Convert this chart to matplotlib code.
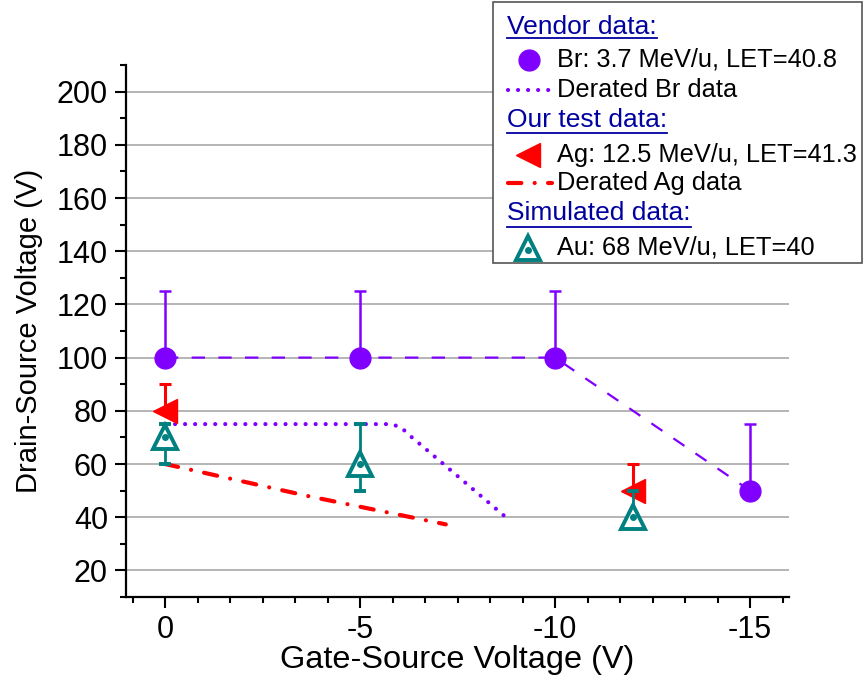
import matplotlib
matplotlib.use("Agg")
import matplotlib.pyplot as plt
from matplotlib.lines import Line2D
from matplotlib.patches import Rectangle
from matplotlib.ticker import MultipleLocator

plt.rcParams['font.family'] = ['Liberation Sans', 'DejaVu Sans']
plt.rcParams['axes.unicode_minus'] = False

# vendor data (Br)
br_x = [0, -5, -10, -15]
br_y = [100, 100, 100, 50]
br_err_up = [25, 25, 25, 25]
# derated Br curve
br_der_x = [0, -5.8, -6.05, -6.3, -6.81, -8.82]
br_der_y = [75, 75, 73.8, 70.4, 64.1, 39]
# our test data (Ag)
ag_x = [0, -12]
ag_y = [80, 50]
ag_err_up = [10, 10]
# derated Ag line
ag_der_x = [0, -3.65, -7.2]
ag_der_y = [60, 48, 37.3]
# simulated data (Au)
au_x = [0, -5, -12]
au_y = [70, 60, 40]
au_err_lo = [10, 10, 0]
au_err_hi = [5, 15, 10]

purple = '#8000FF'
red = '#FF0000'
teal = '#008080'
navy = '#0000A0'

W, H = 865, 685
fig = plt.figure(figsize=(W / 100, H / 100), dpi=100)
ax = fig.add_axes([126 / W, 1 - 597 / H, (789 - 126) / W, (597 - 65) / H])


def fx(px):
    return px / W


def fy(py):
    return 1 - py / H


# lines
ax.plot(br_x, br_y, color=purple, lw=1.6, ls=(0, (6, 6)), zorder=3)
ax.plot(br_der_x, br_der_y, color=purple, lw=3, ls=(0, (0.01, 2.4)),
        dash_capstyle='round', zorder=3)
ax.plot(ag_der_x, ag_der_y, color=red, lw=3, ls=(0, (3.2, 3.2, 0.01, 3.2)),
        dash_capstyle='round', zorder=3)

# points with error bars
ax.errorbar(br_x, br_y, yerr=[[0] * len(br_x), br_err_up], fmt='o', color=purple,
            ms=15, elinewidth=1.8, capsize=4.5, capthick=1.8, zorder=4)
ax.errorbar(ag_x, ag_y, yerr=[[0] * len(ag_x), ag_err_up], fmt='<', color=red,
            ms=17, elinewidth=2.2, capsize=4.5, capthick=2.2, zorder=4)
ax.errorbar(au_x, au_y, yerr=[au_err_lo, au_err_hi], fmt='^', color=teal,
            mfc='white', mec=teal, mew=2.8, ms=17, elinewidth=2, capsize=4.5,
            capthick=2, zorder=5)
ax.plot(au_x, au_y, 'o', color=teal, ms=4, zorder=6)

ax.set_xlim(1, -16)
ax.set_ylim(10, 210)
ax.xaxis.set_major_locator(MultipleLocator(5))
ax.xaxis.set_minor_locator(MultipleLocator(5 / 6))
ax.yaxis.set_major_locator(MultipleLocator(20))
ax.yaxis.set_minor_locator(MultipleLocator(10))
ax.set_xticks([0, -5, -10, -15])
ax.set_yticks(range(20, 201, 20))
ax.grid(axis='y', which='major', color='#a8a8a8', lw=1.2)
ax.set_axisbelow(True)
for s in ['top', 'right']:
    ax.spines[s].set_visible(False)
for s in ['left', 'bottom']:
    ax.spines[s].set_linewidth(1.6)
ax.tick_params(which='major', direction='out', length=8, width=1.5, labelsize=22, pad=5)
ax.tick_params(which='minor', direction='out', length=4.5, width=1.5)
ax.set_xlabel("Gate-Source Voltage (V)", fontsize=23.4, labelpad=0)
ax.set_ylabel("Drain-Source Voltage (V)", fontsize=21, labelpad=10)

# legend box drawn by hand (Origin style with section headers)
fig.add_artist(Rectangle((fx(493), fy(263)), fx(862) - fx(493), fy(2) - fy(263),
                         transform=fig.transFigure, fill=True, facecolor='white',
                         edgecolor='#555555', lw=1.2, zorder=10))
fs = 18.3
headers = [("Vendor data:", 27, 38), ("Our test data:", 120, 133), ("Simulated data:", 213, 227)]
head_texts = []
for label, yc, yu in headers:
    t = fig.text(fx(507), fy(yc), label, color=navy, fontsize=19, va='center',
                 ha='left', zorder=11)
    head_texts.append((t, yu))

items = [("Br: 3.7 MeV/u, LET=40.8", 60), ("Derated Br data", 90),
         ("Ag: 12.5 MeV/u, LET=41.3", 155), ("Derated Ag data", 183),
         ("Au: 68 MeV/u, LET=40", 248)]
for label, yc in items:
    fig.text(fx(557), fy(yc), label, color='black', fontsize=fs, va='center',
             ha='left', zorder=11)

fig.add_artist(Line2D([fx(529)], [fy(60)], marker='o', color=purple, ms=15,
                      transform=fig.transFigure, zorder=11))
fig.add_artist(Line2D([fx(508), fx(550)], [fy(90), fy(90)], color=purple, lw=3,
                      ls=(0, (0.01, 2.4)), dash_capstyle='round',
                      transform=fig.transFigure, zorder=11))
fig.add_artist(Line2D([fx(528)], [fy(155)], marker='<', color=red, ms=17,
                      transform=fig.transFigure, zorder=11))
fig.add_artist(Line2D([fx(508), fx(552)], [fy(183), fy(183)], color=red, lw=3,
                      ls=(0, (3.2, 3.2, 0.01, 3.2)), dash_capstyle='round',
                      transform=fig.transFigure, zorder=11))
fig.add_artist(Line2D([fx(528)], [fy(248)], marker='^', color=teal, mfc='white',
                      mec=teal, mew=2.8, ms=17, transform=fig.transFigure, zorder=11))
fig.add_artist(Line2D([fx(528)], [fy(250)], marker='o', color=teal, ms=4,
                      transform=fig.transFigure, zorder=12))

fig.canvas.draw()
renderer = fig.canvas.get_renderer()
for t, yu in head_texts:
    bb = t.get_window_extent(renderer)
    fig.add_artist(Line2D([bb.x0 / W, bb.x1 / W], [fy(yu), fy(yu)], color=navy, lw=1.3,
                          transform=fig.transFigure, zorder=11))

fig.savefig("out.png", dpi=100)
